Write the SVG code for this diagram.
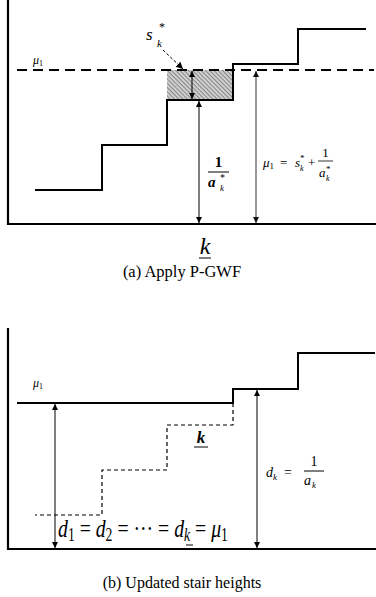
<svg xmlns="http://www.w3.org/2000/svg" width="376" height="597" viewBox="0 0 376 597">
<style>
.ax{stroke:#000;stroke-width:2.2;fill:none}
.st{stroke:#000;stroke-width:2;fill:none}
.ds{stroke:#000;stroke-width:1.2;fill:none;stroke-dasharray:4 3}
.ar{stroke:#000;stroke-width:1;fill:none;marker-start:url(#ah);marker-end:url(#ah)}
.arg{stroke:#555;stroke-width:1.2;fill:none;marker-start:url(#ahg);marker-end:url(#ahg)}
.m{font-family:"Liberation Serif","DejaVu Serif",serif;font-style:italic;fill:#000}
.r{font-family:"Liberation Serif","DejaVu Serif",serif;fill:#000}
</style>
<defs>
<marker id="ah" viewBox="0 0 10 10" refX="10" refY="5" markerWidth="6" markerHeight="8" markerUnits="userSpaceOnUse" orient="auto-start-reverse"><path d="M0,0 L10,5 L0,10 z" fill="#000"/></marker>
<marker id="ahg" viewBox="0 0 10 10" refX="10" refY="5" markerWidth="6" markerHeight="8" markerUnits="userSpaceOnUse" orient="auto-start-reverse"><path d="M0,0 L10,5 L0,10 z" fill="#111"/></marker>
<marker id="ah2" viewBox="0 0 10 10" refX="10" refY="5" markerWidth="7" markerHeight="9" markerUnits="userSpaceOnUse" orient="auto-start-reverse"><path d="M0,0 L10,5 L0,10 z" fill="#000"/></marker>
<pattern id="hatch" width="3" height="3" patternUnits="userSpaceOnUse" patternTransform="rotate(45)">
<rect width="3" height="3" fill="#d8d8d8"/>
<line x1="0" y1="0.7" x2="3" y2="0.7" stroke="#777" stroke-width="1"/>
</pattern>
</defs>

<g id="panel-a">
<g id="a-shaded"><rect x="167" y="70" width="66" height="30" fill="url(#hatch)"/></g>
<g id="a-axes"><path class="ax" d="M8,0 V224 H376"/></g>
<g id="a-mu-line"><line x1="17" y1="70" x2="374" y2="70" stroke="#000" stroke-width="2" stroke-dasharray="10 6"/></g>
<g id="a-stairs"><path class="st" d="M35,190 H102 V145 H167 V100 H233 V64 H298 V29 H366"/></g>
<g id="a-connectors">
<line class="ar" x1="192" y1="71" x2="192" y2="99"/>
<line class="ar" x1="199" y1="101" x2="199" y2="223"/>
<line class="arg" x1="256" y1="71" x2="256" y2="223"/>
<line x1="163" y1="50" x2="183" y2="69" stroke="#000" stroke-width="1" stroke-dasharray="3 2" marker-end="url(#ah2)"/>
</g>
<g id="a-labels">
<text class="m" x="146" y="40" font-size="17">s</text>
<text class="r" x="159" y="31" font-size="12">*</text>
<text class="m" x="157" y="47" font-size="11">k</text>
<text class="m" x="33" y="64" font-size="12">μ<tspan class="r" font-style="normal" font-size="8" dy="2">1</tspan></text>
<g id="a-frac1">
<text class="r" x="218.5" y="167" font-size="15" text-anchor="middle" font-weight="bold">1</text>
<line x1="208" y1="172" x2="229" y2="172" stroke="#000" stroke-width="1"/>
<text class="m" x="208" y="187" font-size="15" font-weight="bold">a</text>
<text class="r" x="220" y="181" font-size="10">*</text>
<text class="m" x="220" y="191" font-size="9">k</text>
</g>
<g id="a-frac2">
<text class="m" x="263" y="167" font-size="13">μ<tspan class="r" font-style="normal" font-size="9" dy="2">1</tspan></text>
<text class="r" x="280" y="167" font-size="13">=</text>
<text class="m" x="295" y="167" font-size="13">s</text>
<text class="r" x="300" y="161" font-size="9">*</text>
<text class="m" x="300" y="171" font-size="8">k</text>
<text class="r" x="308" y="167" font-size="13">+</text>
<text class="r" x="325.5" y="157" font-size="13" text-anchor="middle">1</text>
<line x1="318" y1="161" x2="333" y2="161" stroke="#000" stroke-width="0.8"/>
<text class="m" x="319" y="177" font-size="13">a</text>
<text class="r" x="326" y="172" font-size="9">*</text>
<text class="m" x="326" y="181" font-size="8">k</text>
</g>
<text class="m" x="205" y="254" font-size="24" text-anchor="middle">k</text>
<line x1="199" y1="258" x2="211" y2="258" stroke="#000" stroke-width="1"/>
<text class="r" x="182" y="277" font-size="16.5" text-anchor="middle">(a) Apply P-GWF</text>
</g>
</g>

<g id="panel-b">
<g id="b-axes"><path class="ax" d="M8,328 V549 H376"/></g>
<g id="b-stairs-new"><path class="st" d="M17,403 H233 V389 H298 V353 H375"/></g>
<g id="b-stairs-old"><path class="ds" d="M233,403 V425 H167 V470 H102 V515 H35"/></g>
<g id="b-connectors">
<line class="ar" x1="55" y1="404" x2="55" y2="548"/>
<line class="ar" x1="257" y1="390" x2="257" y2="548"/>
</g>
<g id="b-labels">
<text class="m" x="33" y="387" font-size="12">μ<tspan class="r" font-style="normal" font-size="8" dy="2">1</tspan></text>
<text class="m" x="201" y="443" font-size="17" font-weight="bold" text-anchor="middle">k</text>
<line x1="194" y1="447" x2="208" y2="447" stroke="#000" stroke-width="1"/>
<g id="b-frac">
<text class="m" x="266" y="477" font-size="14">d</text>
<text class="m" x="273" y="480" font-size="9">k</text>
<text class="r" x="284" y="477" font-size="14">=</text>
<text class="r" x="314" y="466" font-size="14" text-anchor="middle">1</text>
<line x1="304" y1="471" x2="324" y2="471" stroke="#000" stroke-width="1"/>
<text class="m" x="304" y="485" font-size="14">a</text>
<text class="m" x="312" y="488" font-size="9">k</text>
</g>
<g id="b-eq" transform="translate(58,537) scale(0.76,1)">
<text class="r" x="0" y="0" font-size="26"><tspan font-style="italic">d</tspan><tspan font-size="18" dy="4">1</tspan><tspan dy="-4"> = </tspan><tspan font-style="italic">d</tspan><tspan font-size="18" dy="4">2</tspan><tspan dy="-4"> = ··· = </tspan><tspan font-style="italic">d</tspan><tspan font-style="italic" font-size="18" dy="4">k</tspan><tspan dy="-4"> = </tspan><tspan font-style="italic">μ</tspan><tspan font-size="18" dy="4">1</tspan></text>
</g>
<line x1="186" y1="545" x2="193" y2="545" stroke="#000" stroke-width="1"/>
<text class="r" x="182" y="588" font-size="16" text-anchor="middle">(b) Updated stair heights</text>
</g>
</g>
</svg>
